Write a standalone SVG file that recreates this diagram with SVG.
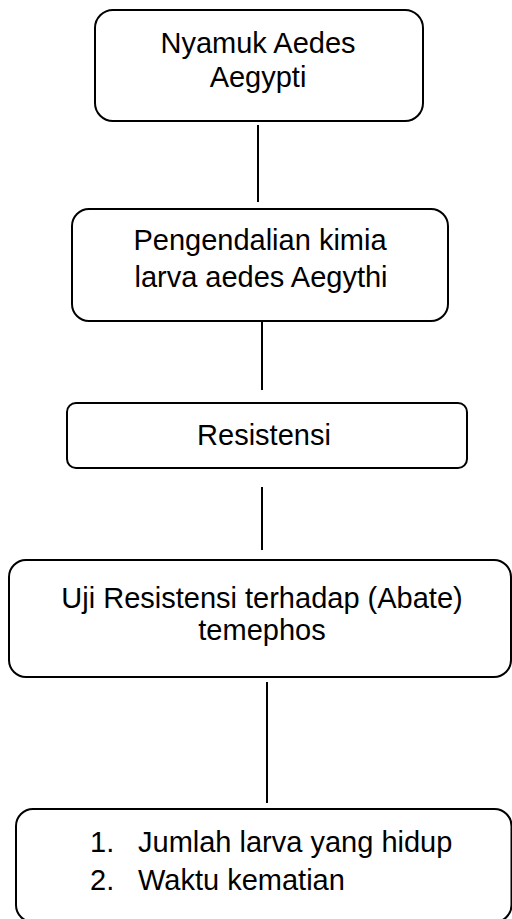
<svg xmlns="http://www.w3.org/2000/svg" width="512" height="919" viewBox="0 0 512 919">
<style>
.box{fill:#fff;stroke:#000;stroke-width:2}
.t{font-family:"Liberation Sans",Arial,sans-serif;font-size:29px;fill:#000}
.c{text-anchor:middle}
.ln{stroke:#000;stroke-width:2;fill:none}
</style>
<rect width="512" height="919" fill="#fff"/>
<g id="connectors">
<line class="ln" x1="258" y1="125" x2="258" y2="202"/>
<line class="ln" x1="262" y1="315" x2="262" y2="390"/>
<line class="ln" x1="262" y1="487" x2="262" y2="550"/>
<line class="ln" x1="267" y1="682" x2="267" y2="803"/>
</g>
<g id="n1">
<rect class="box" x="95" y="10" width="328" height="111" rx="18"/>
<text class="t c" x="258" y="53">Nyamuk Aedes</text>
<text class="t c" x="258" y="87">Aegypti</text>
</g>
<g id="n2">
<rect class="box" x="72" y="209" width="376" height="112" rx="17"/>
<text class="t c" x="260" y="250">Pengendalian kimia</text>
<text class="t c" x="261" y="287">larva aedes Aegythi</text>
</g>
<g id="n3">
<rect class="box" x="67" y="403" width="400" height="65" rx="9"/>
<text class="t c" x="264" y="445">Resistensi</text>
</g>
<g id="n4">
<rect class="box" x="9" y="560" width="502" height="117" rx="17"/>
<text class="t c" x="262" y="608">Uji Resistensi terhadap (Abate)</text>
<text class="t c" x="262" y="640">temephos</text>
</g>
<g id="n5">
<rect class="box" x="16" y="809" width="495.5" height="113" rx="17"/>
<text class="t" x="90" y="852">1.</text>
<text class="t" x="138" y="852">Jumlah larva yang hidup</text>
<text class="t" x="90" y="890">2.</text>
<text class="t" x="138" y="890">Waktu kematian</text>
</g>
</svg>
